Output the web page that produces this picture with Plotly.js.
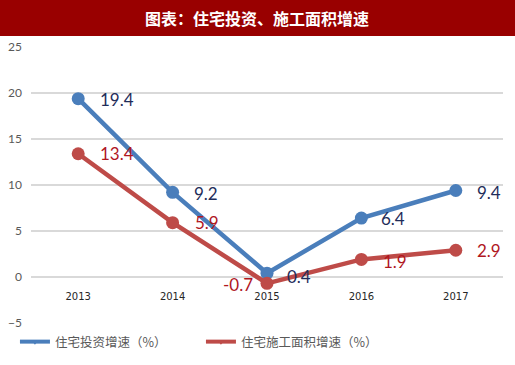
<!DOCTYPE html>
<html><head><meta charset="utf-8">
<script src="https://cdn.plot.ly/plotly-3.0.1.min.js"></script>
<style>html,body{margin:0;padding:0;background:#fff}#chart{width:515px;height:365px}</style>
</head><body><div id="chart"></div>
<script>
const titleText = "图表：住宅投资、施工面积增速";
const years = ["2013", "2014", "2015", "2016", "2017"];
const investName = "住宅投资增速（%）";
const investValues = [19.4, 9.2, 0.4, 6.4, 9.4];
const areaName = "住宅施工面积增速（%）";
const areaValues = [13.4, 5.9, -0.7, 1.9, 2.9];
const yTicks = [-5, 0, 5, 10, 15, 20, 25];

const blue = "#4A7EBB", red = "#BE4B48";
const blueLabel = "#1F2D5A", redLabel = "#B0171F";
const numFont = "Lato, 'Liberation Sans', sans-serif";
const cjk = "'Noto Sans CJK SC', sans-serif";

// label offsets (styling only)
const investOff = [[20,-1,'left'],[19,-1,'left'],[18,-3,'left'],[18,0,'left'],[19,-2,'left']];
const areaOff = [[20,0,'left'],[20,0,'left'],[-12,-1,'right'],[20,-2,'left'],[19,0,'left']];

const T = 47, B = 42, H = 365 - T - B;

function series(name, vals, color) {
  return {type:'scatter', mode:'lines+markers', x:years, y:vals, name:name,
    line:{color:color, width:4.5}, marker:{color:color, size:13}, showlegend:false, hoverinfo:'skip'};
}
function legendTrace(name, color) {
  return {type:'scatter', mode:'lines+markers', x:[null], y:[null], name:name,
    line:{color:color, width:4}, marker:{color:color, size:6, symbol:'triangle-down'}};
}
function labels(vals, off, color) {
  return vals.map((v,i)=>({x:i, y:v, xref:'x', yref:'y', text:v.toFixed(1),
    showarrow:false, xanchor:off[i][2], yanchor:'middle', xshift:off[i][0], yshift:off[i][1],
    font:{family:numFont, size:17, color:color}}));
}

const data = [series(investName, investValues, blue), series(areaName, areaValues, red),
  legendTrace(investName, blue), legendTrace(areaName, red)];

const layout = {
  width:515, height:365, margin:{l:31, r:12, t:T, b:B, autoexpand:false},
  paper_bgcolor:'#fff', plot_bgcolor:'#fff', showlegend:true,
  xaxis:{type:'category', range:[-0.5,4.5], showgrid:false, zeroline:false, showline:false,
    ticks:'', anchor:'free', position:5/30, ticklabelstandoff:12,
    tickfont:{family:"'DejaVu Sans', sans-serif", size:10, color:'#262626'}},
  yaxis:{range:[-5.02,25.02], tickvals:yTicks, showgrid:true, gridcolor:'#D9D9D9', gridwidth:2,
    zeroline:false, showline:false, ticks:'', ticklabelstandoff:8,
    tickfont:{family:numFont, size:12, color:'#595959'}},
  legend:{orientation:'h', x:-0.034, xanchor:'left', y:(T+H-342)/H, yanchor:'middle',
    entrywidth:141, entrywidthmode:'pixels',
    font:{family:cjk, size:12.5, color:'#595959'}, bgcolor:'rgba(0,0,0,0)'},
  shapes:[{type:'rect', xref:'paper', yref:'paper', x0:-0.1, x1:1.1, y0:(T+H-36)/H, y1:1.3,
    fillcolor:'#990000', line:{width:0}, layer:'below'}],
  annotations:[{xref:'paper', yref:'paper', x:(257-31)/472, y:(T+H-18)/H, xanchor:'center', yanchor:'middle',
    text:'<b>'+titleText+'</b>', showarrow:false, font:{family:cjk, size:16, color:'#fff'}}]
    .concat(labels(investValues, investOff, blueLabel)).concat(labels(areaValues, areaOff, redLabel))
};
Plotly.newPlot('chart', data, layout, {displayModeBar:false, staticPlot:true});
</script></body></html>
